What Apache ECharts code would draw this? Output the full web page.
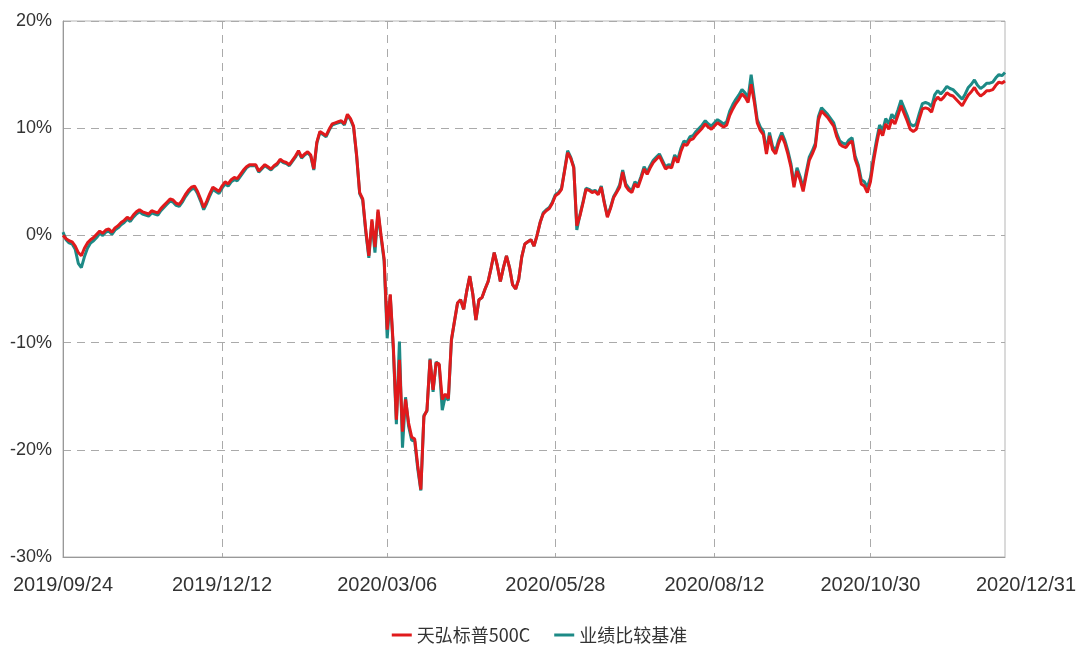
<!DOCTYPE html>
<html>
<head>
<meta charset="utf-8">
<script src="https://cdn.jsdelivr.net/npm/echarts@6/dist/echarts.min.js"></script>
<style>html,body{margin:0;padding:0;background:#fff;}#c{width:1079px;height:651px;}</style>
</head>
<body>
<div id="c"></div>
<script>
// Trading calendar (SSE) for the period: weekdays minus exchange holidays
var startDate = '2019/09/24';
var endDate = '2020/12/31';
var holidays = ['2019/10/01','2019/10/02','2019/10/03','2019/10/04','2019/10/07',
  '2020/01/01','2020/01/24','2020/01/27','2020/01/28','2020/01/29','2020/01/30','2020/01/31',
  '2020/04/06','2020/05/01','2020/05/04','2020/05/05','2020/06/25','2020/06/26',
  '2020/10/01','2020/10/02','2020/10/05','2020/10/06','2020/10/07','2020/10/08'];
var tickLabels = ['2019/09/24','2019/12/12','2020/03/06','2020/05/28','2020/08/12','2020/10/30','2020/12/31'];
var seriesNames = ['天弘标普500C','业绩比较基准'];

// 天弘标普500C cumulative return (%)
var fundValues = [
 0.0,-0.3,-0.5,-0.6,-1.0,-1.6,-1.9,-1.2,-0.7,-0.4,
 -0.2,0.1,0.4,0.2,0.5,0.6,0.3,0.7,0.9,1.2,
 1.4,1.7,1.5,1.9,2.2,2.4,2.2,2.1,2.0,2.3,
 2.2,2.1,2.5,2.8,3.1,3.4,3.3,3.0,2.9,3.3,
 3.8,4.2,4.5,4.6,4.1,3.4,2.6,3.2,3.9,4.5,
 4.3,4.1,4.6,5.0,4.8,5.2,5.4,5.3,5.7,6.1,
 6.4,6.6,6.6,6.6,6.0,6.3,6.6,6.4,6.2,6.5,
 6.7,7.1,6.9,6.8,6.6,7.0,7.4,7.9,7.3,7.6,
 7.8,7.5,6.2,8.7,9.7,9.5,9.3,9.9,10.4,10.5,
 10.6,10.7,10.4,11.3,10.9,10.2,7.5,4.0,3.4,0.5,
 -1.9,1.5,-1.1,2.4,0.0,-2.2,-8.8,-5.5,-10.3,-17.2,
 -11.6,-18.3,-15.3,-17.5,-18.8,-19.0,-21.5,-23.7,-16.9,-16.3,
 -11.6,-14.4,-11.9,-12.0,-15.3,-14.8,-15.2,-9.7,-8.0,-6.3,
 -6.0,-6.9,-5.2,-3.8,-5.5,-7.9,-6.0,-5.8,-5.0,-4.3,
 -3.0,-1.6,-2.8,-4.3,-3.0,-1.9,-3.0,-4.6,-5.0,-4.1,
 -2.0,-0.8,-0.6,-0.4,-1.0,0.0,1.2,2.0,2.3,2.5,
 3.0,3.7,3.9,4.3,6.0,7.7,7.2,6.3,0.9,1.8,
 3.0,4.3,4.2,4.0,4.1,3.8,4.5,3.0,1.7,2.5,
 3.5,4.0,4.5,5.9,4.6,4.2,4.0,4.8,4.5,5.3,
 6.2,5.7,6.3,6.8,7.1,7.4,6.8,6.2,6.4,6.3,
 7.3,6.8,7.8,8.5,8.4,8.9,9.0,9.4,9.7,10.0,
 10.4,10.1,9.9,10.2,10.5,10.3,10.1,10.3,11.2,11.8,
 12.3,12.7,13.2,12.9,12.4,14.1,12.5,10.5,9.8,9.4,
 7.6,9.3,8.0,7.6,8.6,9.3,8.6,7.6,6.4,4.5,
 6.0,5.2,4.1,5.6,7.0,7.6,8.3,10.8,11.6,11.3,
 11.0,10.6,10.2,9.2,8.5,8.3,8.2,8.6,8.8,7.1,
 6.3,4.8,4.6,4.0,5.0,6.9,8.5,9.9,9.3,10.4,
 9.9,10.8,10.4,11.2,12.1,11.4,10.7,9.9,9.7,9.9,
 10.9,11.8,11.9,11.8,11.5,12.5,12.9,12.6,12.9,13.3,
 13.1,13.0,12.7,12.4,12.1,12.6,13.1,13.4,13.8,13.3,
 13.0,13.2,13.5,13.5,13.6,14.0,14.3,14.2,14.4
];

// 业绩比较基准 cumulative return (%)
var benchValues = [
 0.3,-0.4,-0.7,-0.8,-1.3,-2.6,-3.0,-2.0,-1.2,-0.7,
 -0.5,-0.2,0.2,0.0,0.3,0.4,0.1,0.5,0.7,1.0,
 1.2,1.5,1.3,1.7,2.0,2.2,2.0,1.9,1.8,2.1,
 2.0,1.9,2.3,2.6,2.9,3.2,3.1,2.8,2.7,3.1,
 3.6,4.0,4.3,4.4,3.9,3.2,2.4,3.0,3.7,4.3,
 4.1,3.9,4.4,4.8,4.6,5.0,5.2,5.1,5.5,5.9,
 6.3,6.5,6.5,6.5,5.9,6.2,6.5,6.3,6.1,6.4,
 6.6,7.0,6.8,6.7,6.5,6.9,7.3,7.8,7.2,7.5,
 7.7,7.4,6.1,8.6,9.6,9.4,9.2,9.8,10.3,10.4,
 10.5,10.6,10.3,11.2,10.8,10.1,7.4,3.9,3.3,0.3,
 -2.1,1.3,-1.6,2.2,-0.2,-2.4,-9.6,-5.6,-10.6,-17.6,
 -9.9,-19.8,-15.1,-17.8,-19.1,-19.2,-21.8,-23.8,-16.8,-16.4,
 -11.5,-14.6,-11.8,-12.1,-16.3,-15.0,-15.4,-9.8,-8.0,-6.3,
 -6.0,-6.9,-5.2,-3.8,-5.5,-7.9,-6.0,-5.8,-5.0,-4.3,
 -3.0,-1.6,-2.8,-4.3,-3.0,-1.9,-3.0,-4.6,-5.0,-4.1,
 -2.0,-0.8,-0.6,-0.4,-1.0,0.0,1.2,2.1,2.4,2.6,
 3.1,3.8,4.0,4.4,6.1,7.9,7.3,6.4,0.5,1.9,
 3.1,4.4,4.3,4.1,4.2,3.9,4.6,3.1,1.8,2.6,
 3.6,4.1,4.7,6.1,4.8,4.4,4.2,5.0,4.7,5.5,
 6.4,5.9,6.5,7.0,7.3,7.6,7.0,6.4,6.6,6.5,
 7.5,7.1,8.1,8.8,8.7,9.2,9.3,9.7,10.0,10.3,
 10.7,10.4,10.2,10.5,10.8,10.6,10.4,10.6,11.6,12.2,
 12.7,13.1,13.6,13.3,12.8,15.0,12.9,10.8,10.1,9.7,
 7.9,9.6,8.3,7.9,8.9,9.6,8.9,7.9,6.7,4.8,
 6.3,5.5,4.4,5.9,7.3,7.9,8.6,11.1,11.9,11.6,
 11.3,10.9,10.5,9.5,8.8,8.6,8.5,8.9,9.1,7.4,
 6.6,5.2,5.0,4.5,5.4,7.3,8.9,10.3,9.8,10.9,
 10.4,11.3,10.9,11.7,12.6,11.9,11.2,10.4,10.2,10.4,
 11.4,12.3,12.4,12.3,12.0,13.1,13.5,13.2,13.5,13.9,
 13.7,13.6,13.3,13.0,12.7,13.2,13.8,14.1,14.5,14.0,
 13.7,13.9,14.2,14.2,14.3,14.7,15.0,14.9,15.2
];

function pad(n){ return n < 10 ? '0' + n : '' + n; }
function tradingDays(s, e, hol) {
  var out = [];
  var d = new Date(s.replace(/\//g,'-') + 'T00:00:00Z');
  var end = new Date(e.replace(/\//g,'-') + 'T00:00:00Z');
  while (d <= end) {
    var wd = d.getUTCDay();
    var str = d.getUTCFullYear() + '/' + pad(d.getUTCMonth()+1) + '/' + pad(d.getUTCDate());
    if (wd !== 0 && wd !== 6 && hol.indexOf(str) < 0) out.push(str);
    d = new Date(d.getTime() + 86400000);
  }
  return out;
}
var dates = tradingDays(startDate, endDate, holidays);
var lastDate = dates[dates.length - 1];

var labelFont = 'Liberation Sans, Arial, sans-serif';
var chart = echarts.init(document.getElementById('c'));
chart.setOption({
  animation: false,
  backgroundColor: '#fff',
  grid: { left: 63, right: 74, top: 21, bottom: 94, show: true, borderColor: '#b5b5b5', borderWidth: 1, outerBoundsMode: 'none', containLabel: false },
  legend: {
    bottom: 2, left: 'center',
    itemWidth: 20, itemHeight: 3, itemGap: 24,
    icon: 'rect',
    textStyle: { fontFamily: 'Noto Sans CJK SC', fontSize: 18, color: '#333' },
    data: seriesNames
  },
  xAxis: {
    type: 'category',
    boundaryGap: false,
    data: dates,
    axisLine: { onZero: false, lineStyle: { color: '#999' } },
    axisTick: { show: false },
    axisLabel: {
      interval: function (i, v) { return tickLabels.indexOf(v) >= 0; },
      showMaxLabel: true,
      margin: 18,
      color: '#333',
      fontFamily: labelFont,
      fontSize: 20,
      formatter: function (v) { return v === lastDate ? '{last|' + v + '}' : v; },
      rich: { last: { padding: [0, 0, 0, 42], fontFamily: labelFont, fontSize: 20, color: '#333' } }
    },
    splitLine: {
      show: true,
      interval: function (i, v) { return tickLabels.indexOf(v) > 0 && v !== lastDate; },
      lineStyle: { color: '#aaa', type: [8, 6], width: 1 }
    }
  },
  yAxis: {
    type: 'value',
    min: -30, max: 20, interval: 10,
    axisLine: { show: true, lineStyle: { color: '#999' } },
    axisTick: { show: false },
    axisLabel: {
      formatter: '{value}%',
      margin: 11,
      color: '#333',
      fontFamily: labelFont,
      fontSize: 18
    },
    splitLine: { show: true, lineStyle: { color: '#aaa', type: [8, 6], width: 1 } }
  },
  series: [
    {
      name: seriesNames[0], type: 'line', data: fundValues,
      showSymbol: false, symbol: 'none', z: 3,
      lineStyle: { color: '#e01a1c', width: 3 }, itemStyle: { color: '#e01a1c' }
    },
    {
      name: seriesNames[1], type: 'line', data: benchValues,
      showSymbol: false, symbol: 'none', z: 2,
      lineStyle: { color: '#1d8a86', width: 3 }, itemStyle: { color: '#1d8a86' }
    }
  ]
});
</script>
</body>
</html>
